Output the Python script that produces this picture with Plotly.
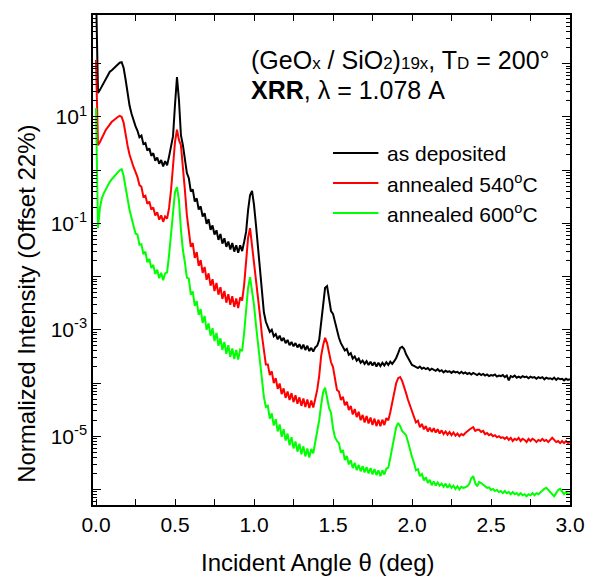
import numpy as np
import plotly.graph_objects as go

# Scan grid: incident angle theta (deg), uniform step
theta_step = 0.0125

# log10 of normalized reflectivity, one value per scan point (0.0 ... 3.0 deg)
log_as_dep = [
    3.40, 1.45, 1.51, 1.58, 1.66, 1.73, 1.79, 1.85, 1.88, 1.92,
    1.96, 2.00, 2.02, 2.03, 1.92, 1.70, 1.41, 1.21, 1.06, 0.92,
    0.83, 0.74, 0.62, 0.65, 0.49, 0.51, 0.37, 0.41, 0.27, 0.32,
    0.18, 0.24, 0.12, 0.19, 0.07, 0.17, 0.09, 0.26, 0.42, 0.64,
    1.23, 1.75, 1.32, 0.66, 0.47, 0.23, -0.05, -0.15, -0.40, -0.36,
    -0.59, -0.53, -0.74, -0.68, -0.87, -0.81, -1.01, -0.92, -1.12, -1.04,
    -1.21, -1.13, -1.31, -1.20, -1.38, -1.28, -1.44, -1.34, -1.49, -1.37,
    -1.53, -1.41, -1.55, -1.41, -1.52, -1.35, -1.16, -0.75, -0.47, -0.39,
    -0.65, -1.03, -1.46, -1.88, -2.35, -2.67, -2.85, -2.95, -3.04, -3.00,
    -3.12, -3.08, -3.18, -3.11, -3.21, -3.15, -3.25, -3.19, -3.29, -3.23,
    -3.31, -3.25, -3.33, -3.27, -3.36, -3.28, -3.38, -3.30, -3.40, -3.34,
    -3.41, -3.33, -3.30, -3.19, -2.82, -2.44, -2.21, -2.18, -2.44, -2.65,
    -2.70, -2.85, -3.04, -3.15, -3.25, -3.32, -3.39, -3.36, -3.47, -3.44,
    -3.54, -3.50, -3.58, -3.54, -3.62, -3.58, -3.64, -3.59, -3.66, -3.60,
    -3.67, -3.61, -3.69, -3.62, -3.68, -3.62, -3.67, -3.61, -3.66, -3.60,
    -3.64, -3.59, -3.53, -3.44, -3.34, -3.32, -3.36, -3.46, -3.53, -3.61,
    -3.66, -3.68, -3.70, -3.72, -3.69, -3.73, -3.71, -3.74, -3.72, -3.76,
    -3.73, -3.75, -3.77, -3.74, -3.78, -3.76, -3.80, -3.77, -3.79, -3.78,
    -3.81, -3.78, -3.80, -3.79, -3.82, -3.79, -3.82, -3.80, -3.83, -3.81,
    -3.84, -3.81, -3.83, -3.85, -3.82, -3.85, -3.83, -3.86, -3.84, -3.87,
    -3.85, -3.86, -3.84, -3.88, -3.86, -3.87, -3.85, -3.89, -3.86, -3.95,
    -3.87, -3.89, -3.86, -3.90, -3.88, -3.90, -3.87, -3.89, -3.88, -3.91,
    -3.88, -3.90, -3.89, -3.92, -3.89, -3.91, -3.89, -3.93, -3.90, -3.92,
    -3.91, -3.93, -3.90, -3.94, -3.91, -3.93, -3.92, -3.95, -3.92, -3.94,
    -3.93,
]

log_540 = [
    2.07, 0.47, 0.53, 0.61, 0.68, 0.76, 0.81, 0.87, 0.91, 0.94,
    0.98, 1.00, 1.02, 1.00, 0.89, 0.66, 0.46, 0.29, 0.15, 0.06,
    -0.03, -0.13, -0.28, -0.31, -0.50, -0.48, -0.63, -0.59, -0.74, -0.70,
    -0.85, -0.79, -0.93, -0.85, -0.97, -0.87, -0.91, -0.71, -0.37, 0.10,
    0.53, 0.76, 0.57, 0.47, 0.10, -0.37, -0.84, -1.15, -1.44, -1.37,
    -1.65, -1.54, -1.80, -1.69, -1.93, -1.82, -2.06, -1.94, -2.17, -2.05,
    -2.27, -2.12, -2.34, -2.20, -2.42, -2.27, -2.49, -2.33, -2.53, -2.37,
    -2.57, -2.41, -2.59, -2.39, -2.45, -2.16, -1.73, -1.27, -1.09, -1.41,
    -1.73, -1.97, -2.35, -2.72, -3.10, -3.42, -3.65, -3.65, -3.85, -3.78,
    -4.00, -3.91, -4.11, -4.01, -4.21, -4.10, -4.28, -4.16, -4.32, -4.19,
    -4.36, -4.23, -4.39, -4.27, -4.43, -4.29, -4.45, -4.31, -4.47, -4.33,
    -4.46, -4.30, -4.13, -3.87, -3.49, -3.29, -3.15, -3.25, -3.47, -3.61,
    -3.70, -3.94, -4.13, -4.16, -4.32, -4.26, -4.42, -4.35, -4.51, -4.43,
    -4.59, -4.49, -4.64, -4.54, -4.70, -4.60, -4.74, -4.62, -4.76, -4.65,
    -4.79, -4.67, -4.81, -4.69, -4.81, -4.69, -4.79, -4.66, -4.70, -4.55,
    -4.38, -4.17, -4.00, -3.91, -3.89, -3.96, -4.06, -4.19, -4.32, -4.43,
    -4.55, -4.64, -4.74, -4.71, -4.83, -4.77, -4.87, -4.81, -4.91, -4.84,
    -4.92, -4.85, -4.93, -4.87, -4.95, -4.89, -4.96, -4.91, -4.97, -4.92,
    -4.98, -4.93, -4.99, -4.95, -5.00, -4.96, -4.98, -4.94, -4.90, -4.88,
    -4.85, -4.83, -4.90, -4.88, -4.88, -4.92, -4.90, -4.96, -4.94, -4.98,
    -4.96, -5.00, -4.98, -5.02, -5.00, -5.03, -5.02, -5.05, -5.02, -5.07,
    -5.03, -5.09, -5.05, -5.07, -5.03, -5.09, -5.05, -5.07, -5.11, -5.05,
    -5.09, -5.05, -5.07, -5.11, -5.07, -5.09, -5.05, -5.09, -5.07, -5.11,
    -5.07, -5.03, -5.07, -5.11, -5.09, -5.13, -5.09, -5.13, -5.09, -5.13,
    -5.11,
]

log_600 = [
    1.17, -1.09, -0.71, -0.52, -0.43, -0.35, -0.28, -0.22, -0.17, -0.13,
    -0.07, -0.03, 0.00, 0.02, -0.11, -0.33, -0.56, -0.75, -0.90, -1.03,
    -1.19, -1.21, -1.40, -1.39, -1.58, -1.53, -1.73, -1.67, -1.84, -1.78,
    -1.95, -1.87, -2.03, -1.93, -2.07, -1.94, -1.92, -1.59, -1.22, -0.75,
    -0.41, -0.32, -0.56, -1.12, -1.50, -1.73, -2.02, -2.04, -2.34, -2.28,
    -2.55, -2.46, -2.72, -2.61, -2.87, -2.74, -3.00, -2.88, -3.11, -2.97,
    -3.21, -3.06, -3.30, -3.16, -3.38, -3.23, -3.45, -3.29, -3.51, -3.35,
    -3.55, -3.38, -3.56, -3.37, -3.40, -3.06, -2.67, -2.21, -2.01, -2.25,
    -2.53, -2.91, -3.25, -3.61, -4.00, -4.26, -4.45, -4.43, -4.67, -4.57,
    -4.80, -4.68, -4.91, -4.78, -5.01, -4.87, -5.08, -4.95, -5.17, -5.02,
    -5.23, -5.10, -5.29, -5.14, -5.34, -5.19, -5.38, -5.23, -5.40, -5.24,
    -5.32, -5.13, -4.94, -4.70, -4.41, -4.17, -4.09, -4.28, -4.47, -4.56,
    -4.85, -5.02, -5.09, -5.13, -5.31, -5.26, -5.45, -5.37, -5.53, -5.45,
    -5.60, -5.50, -5.64, -5.54, -5.66, -5.56, -5.68, -5.58, -5.70, -5.60,
    -5.72, -5.62, -5.73, -5.64, -5.75, -5.64, -5.72, -5.61, -5.59, -5.41,
    -5.22, -5.02, -4.83, -4.75, -4.81, -4.90, -4.94, -4.98, -5.11, -5.26,
    -5.39, -5.50, -5.64, -5.62, -5.75, -5.71, -5.83, -5.77, -5.88, -5.82,
    -5.92, -5.85, -5.93, -5.87, -5.93, -5.89, -5.95, -5.89, -5.97, -5.91,
    -5.97, -5.93, -5.99, -5.94, -6.00, -5.95, -5.97, -5.96, -5.94, -5.90,
    -5.79, -5.75, -5.88, -5.94, -5.86, -5.88, -5.92, -5.94, -5.97, -5.96,
    -6.01, -5.99, -6.03, -6.01, -6.05, -6.03, -6.07, -6.03, -6.07, -6.05,
    -6.09, -6.05, -6.09, -6.07, -6.11, -6.07, -6.11, -6.09, -6.13, -6.09,
    -6.11, -6.07, -6.11, -6.07, -6.09, -6.05, -6.03, -5.99, -5.97, -6.01,
    -6.07, -6.11, -6.13, -6.07, -6.01, -5.99, -6.05, -6.09, -6.05, -6.09,
    -6.07,
]

series_names = ["as deposited", "annealed 540<sup>o</sup>C", "annealed 600<sup>o</sup>C"]
series_logs = [log_as_dep, log_540, log_600]
series_colors = ["#000000", "#ff0000", "#00ff00"]

x_tick_vals = [0.0, 0.5, 1.0, 1.5, 2.0, 2.5, 3.0]
x_tick_text = ["0.0", "0.5", "1.0", "1.5", "2.0", "2.5", "3.0"]
y_label_decades = [-5, -3, -1, 1]
y_plain_decades = [-6, -4, -2, 0, 2]

theta = np.round(np.arange(len(log_as_dep)) * theta_step, 4)

W, H = 597, 577
ML, MR, MT, MB = 93, 21, 15, 72
PW, PH = W - ML - MR, H - MT - MB
Y_RANGE = [-6.293, 2.917]


def px_x(px):
    return (px - ML) / PW


def px_y(py):
    return (H - MB - py) / PH


FONT = "Liberation Sans, Arial, sans-serif"

fig = go.Figure()
for name, logs, color in zip(series_names, series_logs, series_colors):
    fig.add_trace(go.Scatter(
        x=theta, y=np.power(10.0, np.array(logs)), mode="lines", name=name,
        line=dict(color=color, width=2), showlegend=False,
    ))

minor_vals = [m * 10.0 ** k for k in range(-7, 3) for m in range(2, 10)]

fig.update_layout(
    width=W, height=H,
    margin=dict(l=ML, r=MR, t=MT, b=MB),
    paper_bgcolor="white", plot_bgcolor="white",
    font=dict(family=FONT, size=21, color="black"),
    xaxis=dict(
        range=[-0.019, 3.0], tickmode="array", tickvals=x_tick_vals, ticktext=x_tick_text,
        ticks="inside", ticklen=6, tickwidth=1.2, tickcolor="black",
        minor=dict(tickmode="linear", tick0=0, dtick=0.25, ticks="inside", ticklen=6,
                   tickwidth=1.2, tickcolor="black"),
        showline=True, linecolor="black", linewidth=1.5, mirror="allticks",
        showgrid=False, zeroline=False, tickfont=dict(size=21, family=FONT),
    ),
    yaxis=dict(
        type="log", range=Y_RANGE, tickmode="array",
        tickvals=[10.0 ** k for k in y_label_decades],
        ticktext=["10<sup>%d</sup>" % k for k in y_label_decades],
        ticks="inside", ticklen=8, tickwidth=1.2, tickcolor="black",
        minor=dict(tickmode="array", tickvals=minor_vals, ticks="inside", ticklen=4,
                   tickwidth=1, tickcolor="black"),
        showline=True, linecolor="black", linewidth=1.5, mirror="allticks",
        showgrid=False, zeroline=False, tickfont=dict(size=21, family=FONT),
    ),
    # unlabeled ticks at the even decades
    yaxis2=dict(
        type="log", range=Y_RANGE, overlaying="y", side="left", tickmode="array",
        tickvals=[10.0 ** k for k in y_plain_decades], showticklabels=False,
        ticks="inside", ticklen=8, tickwidth=1.2, tickcolor="black",
        showline=False, mirror="allticks", showgrid=False, zeroline=False,
    ),
)
# an empty trace so the second y axis is drawn
fig.add_trace(go.Scatter(x=[], y=[], yaxis="y2", showlegend=False, hoverinfo="skip"))

small = "<span style='font-size:17px'>%s</span>"
line1 = ("(GeO" + small % "x" + " / SiO" + small % "2" + ")" + small % "19x"
         + ", T" + small % "D" + " = 200°")
line2 = "<b>XRR</b>, λ = 1.078 A"

annotations = [
    dict(text=line1, x=px_x(251), y=px_y(60), xanchor="left", yanchor="middle",
         font=dict(size=25)),
    dict(text=line2, x=px_x(251), y=px_y(90), xanchor="left", yanchor="middle",
         font=dict(size=25)),
    dict(text="Incident Angle θ (deg)", x=px_x(321), y=px_y(562), xanchor="center",
         yanchor="middle", font=dict(size=24)),
    dict(text="Normalized Intensity (Offset 22%)", x=px_x(25), y=px_y(304),
         xanchor="center", yanchor="middle", textangle=-90, font=dict(size=24)),
]

legend_rows = [153, 183, 213]
shapes = []
for name, color, row in zip(series_names, series_colors, legend_rows):
    shapes.append(dict(type="line", xref="paper", yref="paper",
                       x0=px_x(336), x1=px_x(382), y0=px_y(row), y1=px_y(row),
                       line=dict(color=color, width=2)))
    annotations.append(dict(text=name, x=px_x(389), y=px_y(row), xanchor="left",
                            yanchor="middle", font=dict(size=21)))

for a in annotations:
    a.update(xref="paper", yref="paper", showarrow=False)

fig.update_layout(annotations=annotations, shapes=shapes)
fig.write_html("out.html")
